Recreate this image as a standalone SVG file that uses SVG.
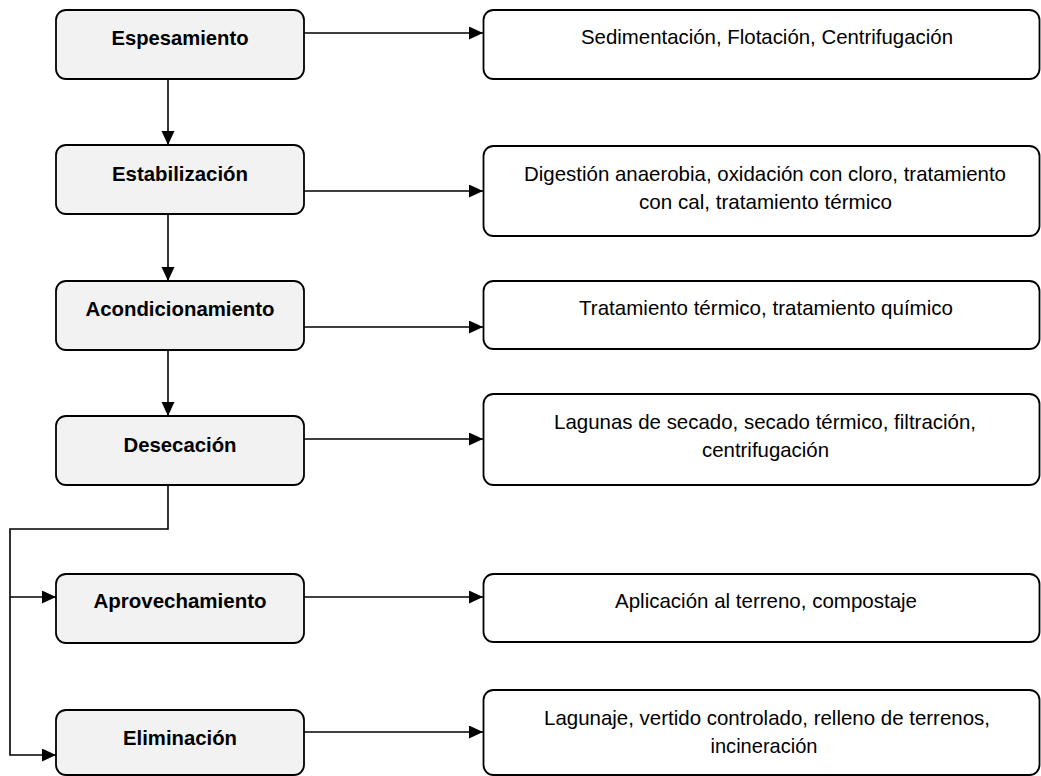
<svg xmlns="http://www.w3.org/2000/svg" width="1041" height="776" viewBox="0 0 1041 776">
<defs>
<marker id="arr" markerUnits="userSpaceOnUse" markerWidth="15" markerHeight="14" refX="14" refY="6.5" orient="auto">
<path d="M0,0 L14,6.5 L0,13 z" fill="#000"/>
</marker>
<style>
.stage{fill:#f2f2f2;stroke:#000;stroke-width:1.8}
.opt{fill:#fff;stroke:#000;stroke-width:1.8}
.b{font-family:"Liberation Sans Narrow","Liberation Sans",Arial,sans-serif;font-weight:bold;font-size:21px;fill:#000;text-anchor:middle}
.r{font-family:"Liberation Sans Narrow","Liberation Sans",Arial,sans-serif;font-size:21px;fill:#000;text-anchor:middle}
.c{fill:none;stroke:#000;stroke-width:1.6}
</style>
</defs>
<rect width="1041" height="776" fill="#fff"/>
<g id="connectors">
<path class="c" d="M304,33 H483" marker-end="url(#arr)"/>
<path class="c" d="M304,191 H483" marker-end="url(#arr)"/>
<path class="c" d="M304,327 H483" marker-end="url(#arr)"/>
<path class="c" d="M304,439 H483" marker-end="url(#arr)"/>
<path class="c" d="M304,597 H483" marker-end="url(#arr)"/>
<path class="c" d="M304,732 H483" marker-end="url(#arr)"/>
<path class="c" d="M168,79 V145" marker-end="url(#arr)"/>
<path class="c" d="M168,214 V281" marker-end="url(#arr)"/>
<path class="c" d="M168,350 V416" marker-end="url(#arr)"/>
<path class="c" d="M168,485 V529 H10 V755 H56" marker-end="url(#arr)"/>
<path class="c" d="M10,597 H56" marker-end="url(#arr)"/>
</g>
<g id="espesamiento">
<rect class="stage" x="56" y="10" width="248" height="69" rx="10"/>
<text class="b" x="180" y="45" textLength="137" lengthAdjust="spacingAndGlyphs">Espesamiento</text>
</g>
<g id="estabilizacion">
<rect class="stage" x="56" y="145" width="248" height="69" rx="10"/>
<text class="b" x="180" y="181" textLength="136" lengthAdjust="spacingAndGlyphs">Estabilización</text>
</g>
<g id="acondicionamiento">
<rect class="stage" x="56" y="281" width="248" height="69" rx="10"/>
<text class="b" x="180" y="316" textLength="189" lengthAdjust="spacingAndGlyphs">Acondicionamiento</text>
</g>
<g id="desecacion">
<rect class="stage" x="56" y="416" width="248" height="69" rx="10"/>
<text class="b" x="180" y="452" textLength="113" lengthAdjust="spacingAndGlyphs">Desecación</text>
</g>
<g id="aprovechamiento">
<rect class="stage" x="56" y="574" width="248" height="69" rx="10"/>
<text class="b" x="180" y="608" textLength="173" lengthAdjust="spacingAndGlyphs">Aprovechamiento</text>
</g>
<g id="eliminacion">
<rect class="stage" x="56" y="710" width="248" height="65" rx="10"/>
<text class="b" x="180" y="745" textLength="114" lengthAdjust="spacingAndGlyphs">Eliminación</text>
</g>
<g id="opt-espesamiento">
<rect class="opt" x="483.5" y="10" width="556" height="69" rx="10"/>
<text class="r" x="767" y="44" textLength="372" lengthAdjust="spacingAndGlyphs">Sedimentación, Flotación, Centrifugación</text>
</g>
<g id="opt-estabilizacion">
<rect class="opt" x="483.5" y="146" width="556" height="90" rx="10"/>
<text class="r" x="765" y="181" textLength="482" lengthAdjust="spacingAndGlyphs">Digestión anaerobia, oxidación con cloro, tratamiento</text>
<text class="r" x="765.5" y="209" textLength="253" lengthAdjust="spacingAndGlyphs">con cal, tratamiento térmico</text>
</g>
<g id="opt-acondicionamiento">
<rect class="opt" x="483.5" y="281" width="556" height="68" rx="10"/>
<text class="r" x="766" y="315" textLength="374" lengthAdjust="spacingAndGlyphs">Tratamiento térmico, tratamiento químico</text>
</g>
<g id="opt-desecacion">
<rect class="opt" x="483.5" y="394" width="556" height="91" rx="10"/>
<text class="r" x="765" y="429" textLength="422" lengthAdjust="spacingAndGlyphs">Lagunas de secado, secado térmico, filtración,</text>
<text class="r" x="765.5" y="457" textLength="127" lengthAdjust="spacingAndGlyphs">centrifugación</text>
</g>
<g id="opt-aprovechamiento">
<rect class="opt" x="483.5" y="574" width="556" height="68" rx="10"/>
<text class="r" x="766" y="608" textLength="302" lengthAdjust="spacingAndGlyphs">Aplicación al terreno, compostaje</text>
</g>
<g id="opt-eliminacion">
<rect class="opt" x="483.5" y="690" width="556" height="85" rx="10"/>
<text class="r" x="767" y="725" textLength="446" lengthAdjust="spacingAndGlyphs">Lagunaje, vertido controlado, relleno de terrenos,</text>
<text class="r" x="764" y="753" textLength="107" lengthAdjust="spacingAndGlyphs">incineración</text>
</g>
</svg>
